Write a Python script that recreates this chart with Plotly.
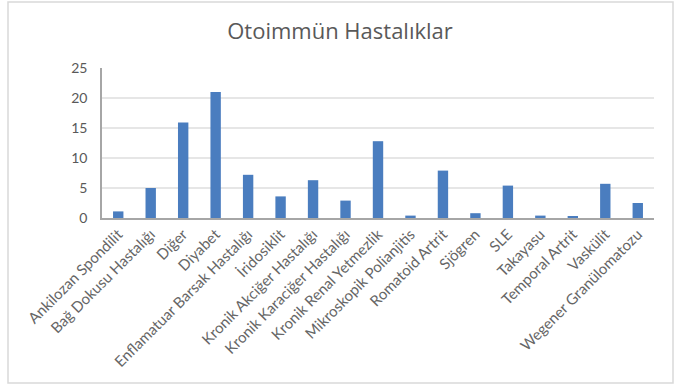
import plotly.graph_objects as go

categories = ["Ankilozan Spondilit", "Bağ Dokusu Hastalığı", "Diğer", "Diyabet",
              "Enflamatuar Barsak Hastalığı", "İridosiklit", "Kronik Akciğer Hastalığı",
              "Kronik Karaciğer Hastalığı", "Kronik Renal Yetmezlik", "Mikroskopik Polianjitis",
              "Romatoid Artrit", "Sjögren", "SLE", "Takayasu", "Temporal Artrit",
              "Vaskülit", "Wegener Granülomatozu"]
values = [1.1, 5.0, 15.9, 21.0, 7.2, 3.6, 6.3, 2.9, 12.8, 0.4, 7.9, 0.8, 5.4, 0.4, 0.2, 5.7, 2.5]
y_ticks = [0, 5, 10, 15, 20, 25]

L, R, T, B = 102, 26, 68, 167
W, H = 680, 385
pw = W - L - R
ph = H - T - B

fig = go.Figure(go.Bar(x=categories, y=values, marker_color="#4a7dbf",
                       marker_line_width=0, width=0.32))

fig.update_layout(
    width=W, height=H,
    margin=dict(l=L, r=R, t=T, b=B),
    paper_bgcolor="white", plot_bgcolor="white",
    font=dict(family="Lato, Open Sans, sans-serif", color="#595959"),
    title=dict(text="Otoimmün Hastalıklar", x=0.5, xanchor="center",
               y=1 - 31 / H, yanchor="middle",
               font=dict(family="Open Sans, sans-serif", size=22, color="#595959")),
    showlegend=False,
    bargap=0.68,
)
fig.update_xaxes(tickangle=-45, tickfont=dict(size=15, color="#666666"),
                 showline=True, linecolor="#a6a6a6", linewidth=1.5,
                 ticks="", showgrid=False)
fig.update_yaxes(range=[0, 25], tickvals=y_ticks, tickfont=dict(size=14, color="#595959"),
                 showgrid=True, gridcolor="#e6e6e6", gridwidth=1.5,
                 showline=True, linecolor="#a6a6a6", linewidth=1.5,
                 zeroline=False, ticks="", ticklabelstandoff=10)

fig.add_shape(type="rect", xref="paper", yref="paper",
              x0=(8 - L) / pw, x1=(673 - L) / pw,
              y0=(H - B - 383) / ph, y1=(H - B - 2) / ph,
              line=dict(color="#d9d9d9", width=1.5), layer="below")

fig.write_html("out.html")
